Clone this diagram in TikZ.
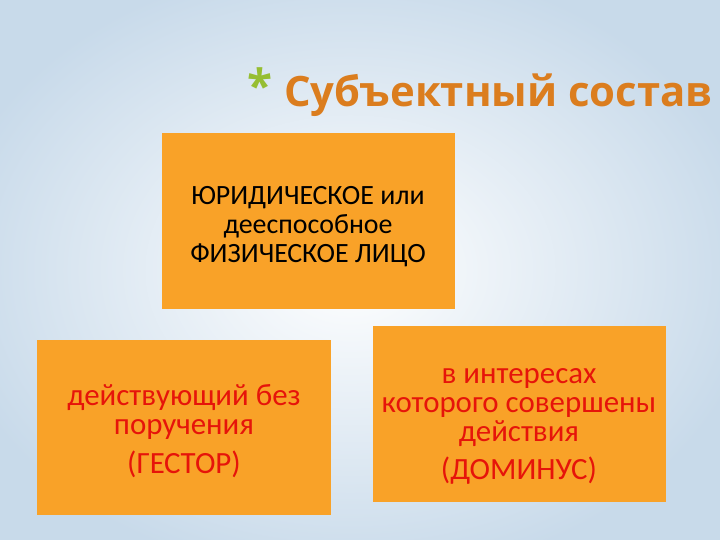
\documentclass[tikz,border=0pt]{standalone}
\usepackage{fontspec}
\setmainfont{Carlito}
\newfontfamily\titlefont{Open Sans}
\usetikzlibrary{positioning}
\definecolor{boxorange}{RGB}{249,162,40}
\definecolor{titleorange}{RGB}{219,125,30}
\definecolor{stargreen}{RGB}{150,190,50}
\definecolor{textred}{RGB}{230,20,10}
\definecolor{bgblue}{RGB}{200,218,234}

\begin{document}
\begin{tikzpicture}[x=1bp,y=-1bp,
                    box/.style={fill=boxorange,align=center,font=\fontsize{28}{29}\selectfont,
                                minimum width=293bp,minimum height=175bp,inner sep=0pt},
                    redbox/.style={box,text=textred,font=\fontsize{31}{29}\selectfont}]

  \useasboundingbox (0,0) rectangle (720,540);
  \clip (0,0) rectangle (720,540);
  \shade[inner color=white,outer color=bgblue] (-60,-40) rectangle (760,580);

  \node[anchor=base east,font=\titlefont\bfseries\fontsize{42}{48}\selectfont,text=titleorange]
        (title) at (716,107) {\textcolor{stargreen}{\raisebox{4bp}{\fontsize{46}{46}\selectfont*}}\hspace{12bp}Субъектный состав};

  % struts push the text a little down inside the boxes
  \node[box]      (subject) at (308,221) {\rule{0pt}{30bp}ЮРИДИЧЕСКОЕ или\\дееспособное\\ФИЗИЧЕСКОЕ ЛИЦО};
  \node[redbox]   (gestor)  at (184,427) {\rule{0pt}{30bp}действующий без\\поручения\\[10bp](ГЕСТОР)};
  \node[redbox]   (dominus) at (519,414) {\rule{0pt}{40bp}в интересах\\которого совершены\\действия\\[10bp](ДОМИНУС)};
\end{tikzpicture}
\end{document}
